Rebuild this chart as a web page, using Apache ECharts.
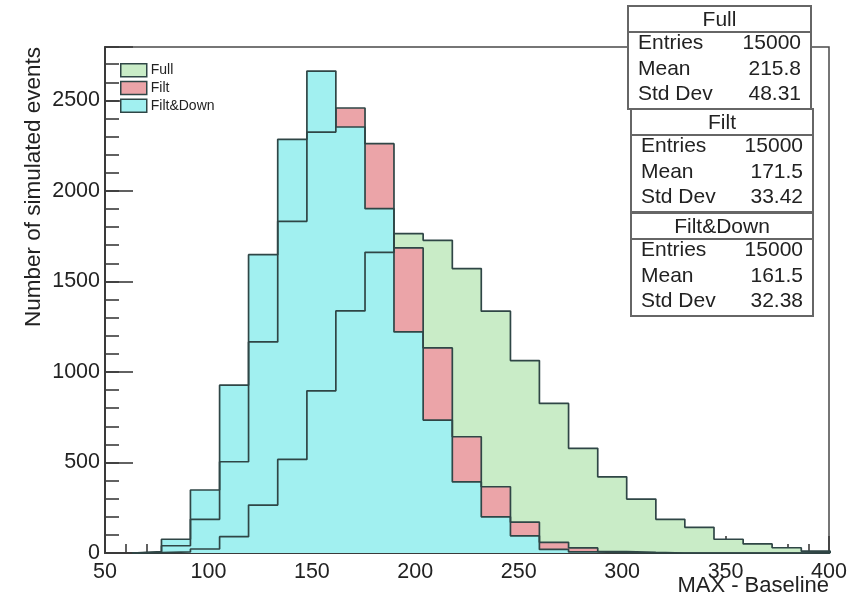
<!DOCTYPE html>
<html><head><meta charset="utf-8">
<script src="https://cdn.jsdelivr.net/npm/echarts@6/dist/echarts.min.js"></script>
<style>html,body{margin:0;padding:0;background:#fff}#c{width:863px;height:600px}</style>
</head><body><div id="c"></div>
<script>
// ---- data ----
const binEdges = [63.2, 77.3, 91.3, 105.4, 119.4, 133.5, 147.6, 161.6, 175.7, 189.7, 203.8, 217.9, 231.9, 246.0, 260.0, 274.1, 288.2, 302.2, 316.3, 330.3, 344.4, 358.5, 372.5, 386.6, 400.6];
const fullCounts = [2, 6, 22, 90, 265, 517, 896, 1337, 1661, 1764, 1727, 1571, 1336, 1063, 826, 578, 421, 298, 186, 142, 76, 50, 29, 10];
const filtCounts = [4, 40, 186, 504, 1166, 1832, 2325, 2458, 2261, 1685, 1133, 642, 366, 170, 59, 28, 8, 3, 0, 0, 0, 0, 0, 0];
const filtDownCounts = [8, 76, 348, 927, 1648, 2285, 2662, 2353, 1902, 1221, 734, 393, 200, 95, 20, 6, 2, 0, 0, 0, 0, 0, 0, 0];
const seriesNames = ['Full', 'Filt', 'Filt&Down'];
const statEntries = ['15000', '15000', '15000'];
const statMeans = ['215.8', '171.5', '161.5'];
const statStdDevs = ['48.31', '33.42', '32.38'];
const xTickLabels = [50, 100, 150, 200, 250, 300, 350, 400];
const yTickLabels = [0, 500, 1000, 1500, 2000, 2500];
const xTitle = 'MAX - Baseline';
const yTitle = 'Number of simulated events';

// ---- style ----
const FONT = "'Liberation Sans', Arial, Helvetica, sans-serif";
const fillColors = ['#c9ecc7', '#eba4a8', '#a1f0f0'];
const outlineColor = '#2f4646';
const axisColor = '#3a3a3a';
const textColor = '#222';

function stepPoints(vals) {
  const pts = [[binEdges[0], 0]];
  vals.forEach((v, i) => pts.push([binEdges[i], v]));
  pts.push([binEdges[vals.length], vals[vals.length - 1]]);
  pts.push([binEdges[vals.length], 0]);
  return pts;
}
const allCounts = [fullCounts, filtCounts, filtDownCounts];

const series = [];
allCounts.forEach((vals, i) => {
  series.push({
    type: 'line', name: seriesNames[i], data: stepPoints(vals), step: 'end',
    symbol: 'none', silent: true, animation: false, z: 2,
    itemStyle: { color: fillColors[i] },
    lineStyle: { width: 0, opacity: 0 },
    areaStyle: { color: fillColors[i], opacity: 1 }
  });
});
allCounts.forEach((vals, i) => {
  series.push({
    type: 'line', name: seriesNames[i] + ' outline', data: stepPoints(vals), step: 'end',
    symbol: 'none', silent: true, animation: false, z: 3,
    lineStyle: { color: outlineColor, width: 1.7 }
  });
});

// stats boxes
const boxLeft = [628, 631, 631], boxRight = [811, 813, 813], boxTop = [6, 109, 213];
const boxH = 103, titleH = 26, rowH = 25.5;
const graphics = [];
seriesNames.forEach((nm, i) => {
  const L = boxLeft[i], R = boxRight[i], T = boxTop[i];
  const children = [
    { type: 'rect', shape: { x: L, y: T, width: R - L, height: boxH }, style: { fill: '#fff', stroke: '#666', lineWidth: 2 } },
    { type: 'line', shape: { x1: L, y1: T + titleH, x2: R, y2: T + titleH }, style: { stroke: '#666', lineWidth: 2 } },
    { type: 'text', style: { text: nm, x: (L + R) / 2, y: T + titleH / 2 + 1, fill: textColor, fontSize: 21, fontFamily: FONT, textAlign: 'center', textVerticalAlign: 'middle' } }
  ];
  const labels = ['Entries', 'Mean', 'Std Dev'];
  const vals = [statEntries[i], statMeans[i], statStdDevs[i]];
  labels.forEach((lb, k) => {
    const cy = T + titleH + 11.5 + k * rowH;
    children.push({ type: 'text', style: { text: lb, x: L + 10, y: cy, fill: textColor, fontSize: 21, fontFamily: FONT, textAlign: 'left', textVerticalAlign: 'middle' } });
    children.push({ type: 'text', style: { text: vals[k], x: R - 10, y: cy, fill: textColor, fontSize: 21, fontFamily: FONT, textAlign: 'right', textVerticalAlign: 'middle' } });
  });
  graphics.push({ type: 'group', z: 100, children });
});
graphics.push({ type: 'text', z: 100, x: 34, y: 187, rotation: Math.PI / 2,
  style: { text: yTitle, x: 0, y: 0, fill: textColor, fontSize: 22.5, fontFamily: FONT, textAlign: 'center', textVerticalAlign: 'middle' } });
graphics.push({ type: 'text', z: 100, x: 829, y: 586,
  style: { text: xTitle, x: 0, y: 0, fill: textColor, fontSize: 22, fontFamily: FONT, textAlign: 'right', textVerticalAlign: 'middle' } });

const chart = echarts.init(document.getElementById('c'), null, { renderer: 'canvas' });
chart.setOption({
  animation: false,
  backgroundColor: '#fff',
  grid: { left: 105, right: 34, top: 47, bottom: 47, show: true, borderColor: '#4a4a4a', borderWidth: 1.5, backgroundColor: 'transparent' },
  xAxis: {
    type: 'value', min: xTickLabels[0], max: xTickLabels[xTickLabels.length - 1], interval: 50,
    axisLine: { show: true, onZero: false, lineStyle: { color: axisColor, width: 2 } },
    axisTick: { show: true, inside: true, length: 17, lineStyle: { color: axisColor, width: 1.6 } },
    minorTick: { show: true, splitNumber: 5, length: 9, lineStyle: { color: axisColor, width: 1.6 } },
    axisLabel: { show: true, fontSize: 21.5, fontFamily: FONT, color: textColor, margin: 8,
      formatter: v => xTickLabels.includes(v) ? String(v) : '' },
    splitLine: { show: false }, minorSplitLine: { show: false }
  },
  yAxis: [{
    type: 'value', min: 0, max: 2795, interval: 500, position: 'left',
    axisLine: { show: true, onZero: false, lineStyle: { color: axisColor, width: 2 } },
    axisTick: { show: true, inside: true, length: 28, lineStyle: { color: axisColor, width: 1.6 } },
    axisLabel: { show: true, fontSize: 21.5, fontFamily: FONT, color: textColor, margin: 5,
      formatter: v => yTickLabels.includes(v) ? String(v) : '' },
    splitLine: { show: false }
  }, {
    type: 'value', min: 0, max: 2795, interval: 100, position: 'left', offset: 0,
    axisLine: { show: false },
    axisTick: { show: true, inside: true, length: 14, lineStyle: { color: axisColor, width: 1.6 } },
    axisLabel: { show: false }, splitLine: { show: false }
  }],
  legend: {
    data: seriesNames.map(n => ({ name: n, icon: 'rect' })),
    orient: 'vertical', left: 120, top: 63, padding: 0, itemWidth: 26, itemHeight: 13, itemGap: 3.2,
    selectedMode: false,
    itemStyle: { borderColor: outlineColor, borderWidth: 1.5 },
    textStyle: { fontSize: 14, fontFamily: FONT, color: textColor, lineHeight: 13, padding: [0, 0, 0, -1] }
  },
  series,
  graphic: graphics
});
</script>
</body></html>
